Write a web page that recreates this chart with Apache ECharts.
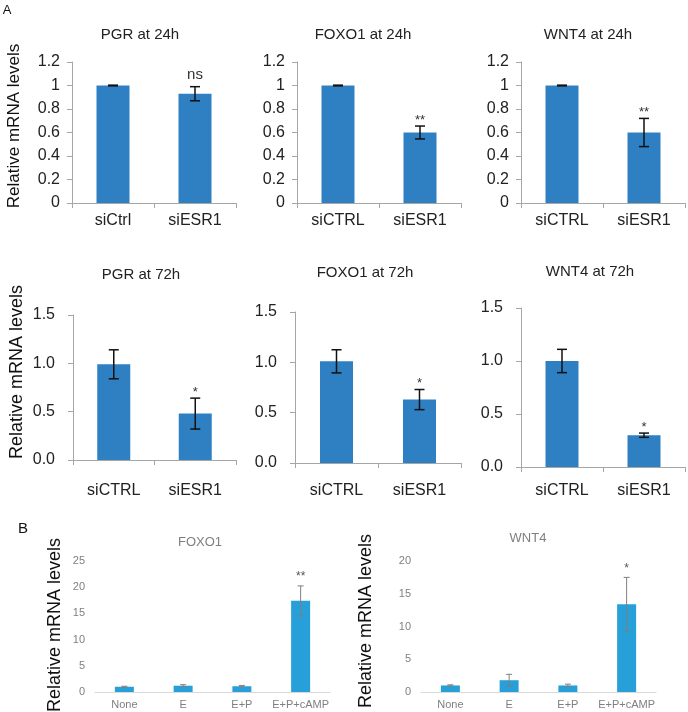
<!DOCTYPE html>
<html>
<head>
<meta charset="utf-8">
<script src="https://cdn.jsdelivr.net/npm/echarts@6/dist/echarts.min.js"></script>
<style>
html,body{margin:0;padding:0;background:#fff;}
#c{width:688px;height:712px;}
</style>
</head>
<body>
<div id="c"></div>
<script>
// ---------- DATA ----------
const catsPGR24 = ['siCtrl', 'siESR1'];
const catsSi = ['siCTRL', 'siESR1'];
const catsB = ['None', 'E', 'E+P', 'E+P+cAMP'];

const pgr24 = [1.0, 0.93];
const pgr24Err = [0.003, 0.06];
const pgr24Sig = ['', 'ns'];

const foxo24 = [1.0, 0.60];
const foxo24Err = [0.003, 0.055];
const foxo24Sig = ['', '**'];

const wnt24 = [1.0, 0.60];
const wnt24Err = [0.003, 0.12];
const wnt24Sig = ['', '**'];

const pgr72 = [0.99, 0.48];
const pgr72Err = [0.15, 0.16];
const pgr72Sig = ['', '*'];

const foxo72 = [1.01, 0.63];
const foxo72Err = [0.115, 0.10];
const foxo72Sig = ['', '*'];

const wnt72 = [1.0, 0.30];
const wnt72Err = [0.11, 0.02];
const wnt72Sig = ['', '*'];

const foxoB = [1.0, 1.2, 1.1, 17.4];
const foxoBErr = [0.1, 0.2, 0.15, 2.85];
const foxoBSig = ['', '', '', '**'];

const wntB = [1.0, 1.8, 1.0, 13.4];
const wntBErr = [0.1, 0.9, 0.2, 4.1];
const wntBSig = ['', '', '', '*'];

const yTicks24 = [0, 0.2, 0.4, 0.6, 0.8, 1, 1.2];
const yTicks72 = [0, 0.5, 1.0, 1.5];
const yTicksFoxoB = [0, 5, 10, 15, 20, 25];
const yTicksWntB = [0, 5, 10, 15, 20];

const titles = ['PGR at 24h', 'FOXO1 at 24h', 'WNT4 at 24h', 'PGR at 72h', 'FOXO1 at 72h', 'WNT4 at 72h', 'FOXO1', 'WNT4'];
const yName = 'Relative mRNA levels';

// ---------- LAYOUT / STYLE ----------
const FF = '"Liberation Sans", Arial, Helvetica, sans-serif';
const panels = [
  {cats: catsPGR24, v: pgr24, e: pgr24Err, s: pgr24Sig, ticks: yTicks24, style: 'A1', g: {left: 72, top: 62, width: 164, height: 141}, t: [140, 35]},
  {cats: catsSi, v: foxo24, e: foxo24Err, s: foxo24Sig, ticks: yTicks24, style: 'A1', g: {left: 297, top: 62, width: 164, height: 141}, t: [363, 35]},
  {cats: catsSi, v: wnt24, e: wnt24Err, s: wnt24Sig, ticks: yTicks24, style: 'A1', g: {left: 521, top: 62, width: 164, height: 141}, t: [588, 35]},
  {cats: catsSi, v: pgr72, e: pgr72Err, s: pgr72Sig, ticks: yTicks72, style: 'A2', g: {left: 73, top: 315, width: 163, height: 145}, t: [141, 275], lm: 23},
  {cats: catsSi, v: foxo72, e: foxo72Err, s: foxo72Sig, ticks: yTicks72, style: 'A2', g: {left: 295, top: 312, width: 166, height: 151}, t: [365, 273], lm: 20},
  {cats: catsSi, v: wnt72, e: wnt72Err, s: wnt72Sig, ticks: yTicks72, style: 'A2', g: {left: 521, top: 308, width: 164, height: 159}, t: [590, 272], lm: 16},
  {cats: catsB, v: foxoB, e: foxoBErr, s: foxoBSig, ticks: yTicksFoxoB, style: 'B', g: {left: 95, top: 561, width: 235, height: 131}, t: [200, 542]},
  {cats: catsB, v: wntB, e: wntBErr, s: wntBSig, ticks: yTicksWntB, style: 'B', g: {left: 421, top: 561, width: 235, height: 131}, t: [528, 538]}
];

const grids = [], xAxes = [], yAxes = [], series = [], graphics = [];

panels.forEach((p, i) => {
  const isB = p.style === 'B';
  grids.push(Object.assign({containLabel: false}, p.g));
  const axisGray = isB ? '#d9d9d9' : '#a6a6a6';
  const step = p.ticks[1] - p.ticks[0];
  xAxes.push({
    type: 'category', gridIndex: i, data: p.cats,
    axisLine: {show: true, lineStyle: {color: axisGray, width: 1}},
    axisTick: {show: !isB, alignWithLabel: false, length: 5, lineStyle: {color: axisGray}},
    axisLabel: isB ? {color: '#7f7f7f', fontSize: 11, fontFamily: FF, margin: 7, interval: 0}
                   : {color: '#222', fontSize: 16, fontFamily: FF, margin: p.style === 'A1' ? 10 : p.lm, interval: 0},
    splitLine: {show: false}
  });
  yAxes.push({
    type: 'value', gridIndex: i, min: p.ticks[0], max: p.ticks[p.ticks.length - 1], interval: step,
    axisLine: {show: !isB, lineStyle: {color: axisGray}},
    axisTick: {show: !isB, length: 5, lineStyle: {color: axisGray}},
    splitLine: {show: false},
    axisLabel: isB ? {color: '#7f7f7f', fontSize: 11, fontFamily: FF, margin: 10}
      : {color: '#222', fontSize: 16, fontFamily: FF, margin: p.style === 'A1' ? 12 : 18,
         formatter: p.style === 'A2' ? (v => v.toFixed(1)) : (v => String(+v.toFixed(1)))}
  });
  series.push({
    type: 'bar', xAxisIndex: i, yAxisIndex: i, data: p.v, z: 2,
    barWidth: isB ? 19 : 33,
    itemStyle: {color: isB ? '#279fd9' : '#2e80c2'},
    silent: true, animation: false
  });
  const errColor = isB ? '#7f7f7f' : '#111';
  const capW = isB ? 3 : 5;
  const lw = isB ? 1 : 1.5;
  const sigSize = isB ? 12 : (p.s.indexOf('ns') >= 0 ? 15 : 13);
  series.push({
    type: 'custom', xAxisIndex: i, yAxisIndex: i, animation: false, silent: true, z: 10,
    data: p.v.map((v, k) => [k, v, p.e[k]]),
    encode: {x: 0, y: 1},
    renderItem: function (params, api) {
      const k = api.value(0), v = api.value(1), e = api.value(2);
      const top = api.coord([k, v + e]);
      const bot = api.coord([k, v - e]);
      const ls = {stroke: errColor, lineWidth: lw};
      const ch = [
        {type: 'line', shape: {x1: top[0], y1: top[1], x2: bot[0], y2: bot[1]}, style: ls},
        {type: 'line', shape: {x1: top[0] - capW, y1: top[1], x2: top[0] + capW, y2: top[1]}, style: ls},
        {type: 'line', shape: {x1: bot[0] - capW, y1: bot[1], x2: bot[0] + capW, y2: bot[1]}, style: ls}
      ];
      const sig = p.s[params.dataIndex];
      if (sig) {
        const gap = sig === 'ns' ? 12 : (isB ? 9 : 6);
        ch.push({type: 'text', x: top[0], y: top[1] - gap,
          style: {text: sig, fill: isB ? '#555' : '#333', fontSize: sigSize, fontFamily: FF, align: 'center', verticalAlign: 'middle'}});
      }
      return {type: 'group', children: ch};
    }
  });
  graphics.push({
    type: 'text', x: p.t[0], y: p.t[1],
    style: {text: titles[i], fill: isB ? '#7f7f7f' : '#222', fontSize: isB ? 13 : 15, fontFamily: FF, align: 'center', verticalAlign: 'middle'}
  });
});

// y-axis names
[[14, 126, 17], [17, 372, 18], [55, 625, 18], [366, 621, 18]].forEach(a => {
  graphics.push({
    type: 'text', x: a[0], y: a[1], rotation: Math.PI / 2,
    style: {text: yName, fill: '#111', fontSize: a[2], fontFamily: FF, align: 'center', verticalAlign: 'middle'}
  });
});
// panel letters
graphics.push({type: 'text', x: 7, y: 10, style: {text: 'A', fill: '#111', fontSize: 13, fontFamily: FF, align: 'center', verticalAlign: 'middle'}});
graphics.push({type: 'text', x: 23, y: 529, style: {text: 'B', fill: '#111', fontSize: 15, fontFamily: FF, align: 'center', verticalAlign: 'middle'}});

const chart = echarts.init(document.getElementById('c'), null, {renderer: 'canvas'});
chart.setOption({
  backgroundColor: '#fff',
  animation: false,
  grid: grids, xAxis: xAxes, yAxis: yAxes, series: series, graphic: graphics
});
</script>
</body>
</html>
